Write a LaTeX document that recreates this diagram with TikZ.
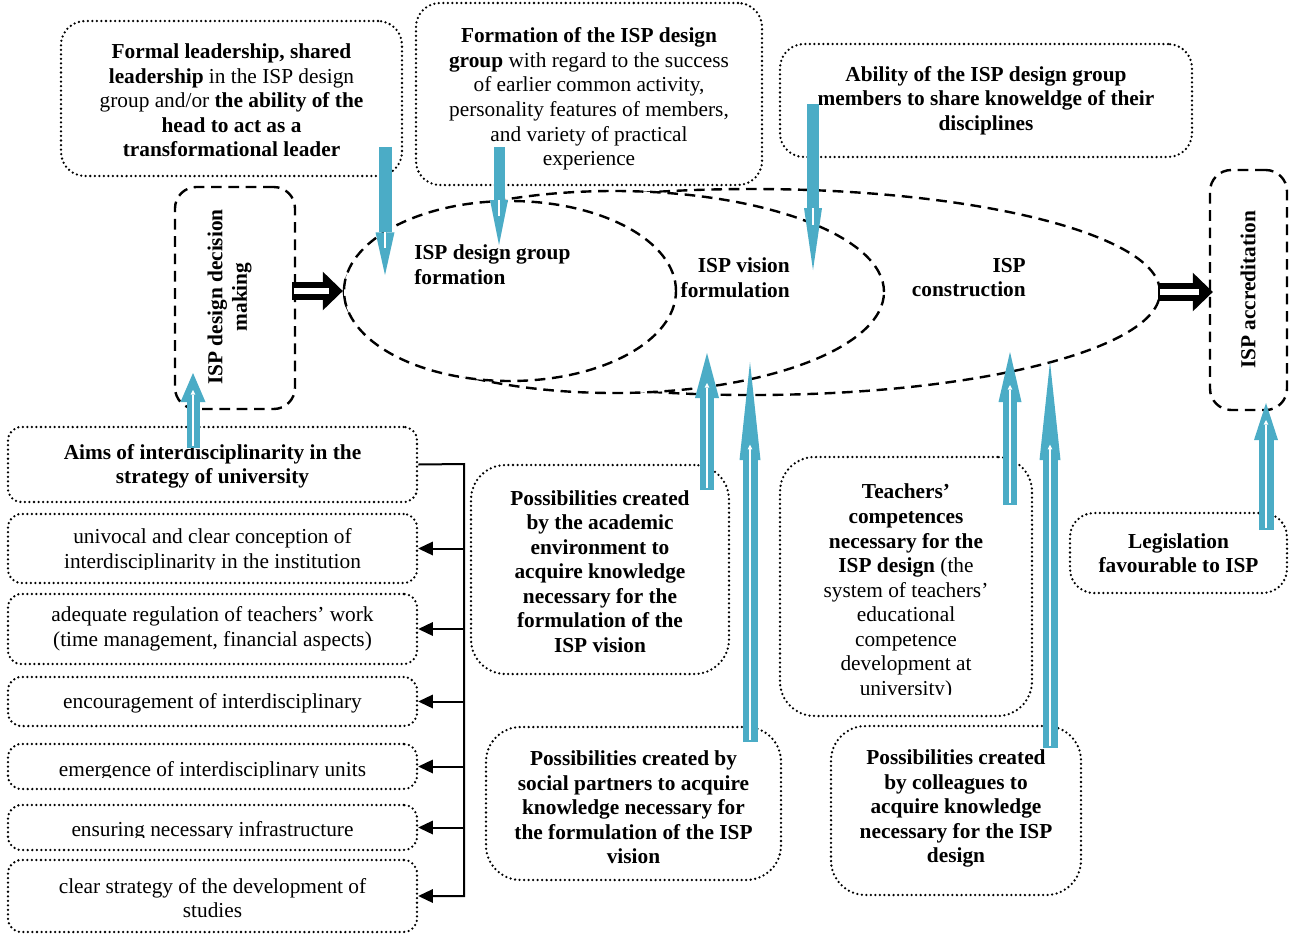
\documentclass[tikz,border=0pt]{standalone}
\usepackage{fontspec}
\setmainfont{Liberation Serif}
\usetikzlibrary{arrows.meta,shapes.geometric,fit,calc}
\definecolor{ispblue}{RGB}{75,172,198}

% Blue influence arrow pointing down: start, tip, shaft width, head length, head width, end of the light streak (from the tip)
\newcommand{\ispDown}[6]{%
  \draw[ispblue, line width=#3, -{Triangle[length=#4, width=#5, line width=0pt]}] (#1) -- (#2);
  \draw[white, line width=1.2pt] ($(#2)!#4!(#1)$) -- ($(#2)!#6!(#1)$);
}
% Blue outlined arrow pointing up: start, tip, shaft width, head length, head width, stripe width, stripe shortening
\newcommand{\ispUp}[7]{%
  \draw[ispblue, line width=#3, -{Triangle[length=#4, width=#5, line width=0pt]}] (#1) -- (#2);
  \draw[white, line width=#6, shorten <=1.5pt, shorten >=#7,
        -{Triangle[length=3.5pt, width=3.6pt, line width=0pt]}] (#1) -- (#2);
}

\begin{document}
\begin{tikzpicture}[x=0.75pt, y=-0.75pt,
  font=\fontsize{16}{18.4}\selectfont,
  dotbox/.style={draw, line width=1.9pt, dash pattern=on 0pt off 3.4pt, line cap=round,
                 rounded corners=18pt, inner sep=0pt},
  listbox/.style={dotbox, rounded corners=10pt},
  bigbox/.style={dotbox, rounded corners=26pt},
  dashbox/.style={draw, line width=1.8pt, dash pattern=on 8pt off 5pt, rounded corners=16pt, inner sep=0pt},
  ring/.style={ellipse, draw, fill=white, line width=1.8pt, dash pattern=on 8pt off 5pt, inner sep=0pt},
  stagelabel/.style={inner sep=0pt, font=\fontsize{16}{18.4}\selectfont\bfseries},
  txt/.style={inner sep=0pt, align=center},
  btxt/.style={txt, font=\fontsize{16}{18.4}\selectfont\bfseries},
  bustip/.style={line width=1.5pt, -{Triangle[length=11pt, width=10.5pt, line width=0pt]}},
  fat/.style={line width=13.5pt, -{Triangle[length=15pt, width=29pt, line width=0pt]}},
  fatcore/.style={white, line width=3.8pt, shorten <=1.5pt, shorten >=10pt}]

\useasboundingbox (0,0) rectangle (1289,936);

% ---- stages of the ISP design process (white-filled, later ones on top) ----
\node[ring, minimum width=612pt, minimum height=154.5pt] (construct) at (752,292) {};
\node[ring, minimum width=405pt, minimum height=151.5pt] (vision) at (614,292) {};
\node[ring, minimum width=249pt, minimum height=135pt] (groupform) at (510,291) {};

\node[stagelabel, align=left, anchor=west] (grouplbl) at (414,264.5) {ISP design group\\formation};
\node[stagelabel, align=right, anchor=east] (visionlbl) at (790,277.5) {ISP vision\\formulation};
\node[stagelabel, align=right, anchor=east] (constrlbl) at (1026,277.5) {ISP\\construction};

\node[dashbox, fit={(175,187) (295,409)}] (decide) {};
\node[stagelabel, align=center, rotate=90] (decidelbl) at (229.5,297) {ISP design decision\\making};
\node[dashbox, fit={(1210,170) (1287,410)}] (accred) {};
\node[stagelabel, rotate=90] (accredlbl) at (1248,290) {ISP accreditation};

% ---- factors ----
\node[dotbox, fit={(61,21) (402,176)}] (lead) {};
\node[txt] (leadtxt) at ($(lead.center)+(0,2)$)
  {\textbf{Formal leadership, shared}\\\textbf{leadership} in the ISP design\\group and/or \textbf{the ability of the}\\\textbf{head to act as a}\\\textbf{transformational leader}};
\node[dotbox, fit={(416,3) (762,185)}] (groupbox) {};
\node[txt] (grouptxt) at ($(groupbox.center)+(0,5)$)
  {\textbf{Formation of the ISP design}\\\textbf{group} with regard to the success\\of earlier common activity,\\personality features of members,\\and variety of practical\\experience};
\node[dotbox, fit={(780,44) (1192,157)}] (share) {};
\node[btxt] (sharetxt) at (share.center)
  {Ability of the ISP design group\\members to share knoweldge of their\\disciplines};

\node[listbox, fit={(8,427) (417,502)}] (aims) {};
\node[btxt] (aimstxt) at ($(aims.center)+(0,2)$) {Aims of interdisciplinarity in the\\strategy of university};
\node[listbox, fit={(8,514) (417,583)}] (univ) {};
\begin{scope}
  \clip (8,514) rectangle (417,569.5);
  \node[txt] (univtxt) at (212.5,550.75) {univocal and clear conception of\\interdisciplinarity in the institution};
\end{scope}
\node[listbox, fit={(8,594) (417,664)}] (regul) {};
\node[txt] (regultxt) at (regul.center) {adequate regulation of teachers’ work\\(time management, financial aspects)};
\node[listbox, fit={(8,677) (417,726)}] (encour) {};
\node[txt] (encourtxt) at ($(encour.center)+(0,2)$) {encouragement of interdisciplinary};
\node[listbox, fit={(8,744) (417,789)}] (units) {};
\begin{scope}
  \clip (8,744) rectangle (417,777);
  \node[txt] (unitstxt) at (212.5,771) {emergence of interdisciplinary units};
\end{scope}
\node[listbox, fit={(8,805) (417,850)}] (infra) {};
\begin{scope}
  \clip (8,805) rectangle (417,837.5);
  \node[txt] (infratxt) at (212.5,831) {ensuring necessary infrastructure};
\end{scope}
\node[listbox, fit={(8,860) (417,932)}] (strat) {};
\node[txt] (strattxt) at ($(strat.center)+(0,2)$) {clear strategy of the development of\\studies};

\node[bigbox, fit={(471,465) (729,674)}] (acad) {};
\node[btxt] (acadtxt) at ($(acad.center)+(0,2)$)
  {Possibilities created\\by the academic\\environment to\\acquire knowledge\\necessary for the\\formulation of the\\ISP vision};
\node[bigbox, fit={(780,457) (1032,716)}] (teach) {};
\begin{scope}
  \clip (780,457) rectangle (1032,694);
  \node[txt] (teachtxt) at (906,592)
    {\textbf{Teachers’}\\\textbf{competences}\\\textbf{necessary for the}\\\textbf{ISP design} (the\\system of teachers’\\educational\\competence\\development at\\university)};
\end{scope}
\node[dotbox, fit={(1070,513) (1287,593)}] (legis) {};
\node[btxt] (legistxt) at (legis.center) {Legislation\\favourable to ISP};
\node[bigbox, fit={(486,727) (781,880)}] (social) {};
\node[btxt] (socialtxt) at ($(social.center)+(0,4)$)
  {Possibilities created by\\social partners to acquire\\knowledge necessary for\\the formulation of the ISP\\vision};
\node[bigbox, fit={(831,726) (1081,895)}] (coll) {};
\node[btxt] (colltxt) at ($(coll.center)+(0,-2)$)
  {Possibilities created\\by colleagues to\\acquire knowledge\\necessary for the ISP\\design};

% ---- strategy components fed from the aims ----
\coordinate (busx) at (464,464);
\draw[bustip] (aims.east) -- (busx) |- (strat.east);
\foreach \comp in {univ, regul, encour, units, infra}
  \draw[bustip] (busx |- \comp.east) -- (\comp.east);

% ---- transitions between stages ----
\draw[fat] ($(decide.east |- groupform.west)+(-4,0)$) -- (groupform.west);
\draw[fatcore] ($(decide.east |- groupform.west)+(-4,0)$) -- (groupform.west);
\draw[fat] ($(construct.east)+(-3,0)$) -- ($(accred.west |- construct.east)+(4,0)$);
\draw[fatcore] ($(construct.east)+(-3,0)$) -- ($(accred.west |- construct.east)+(4,0)$);

% ---- influences ----
\coordinate (lead0) at (385,147);   \coordinate (lead1) at (385,275);
\coordinate (group0) at (499,147);  \coordinate (group1) at (499,245);
\coordinate (share0) at (813,104);  \coordinate (share1) at (813,270);
\coordinate (aims0) at (193,448);   \coordinate (aims1) at (193,373);
\coordinate (acad0) at (707,490);   \coordinate (acad1) at (707,353);
\coordinate (social0) at (750,742); \coordinate (social1) at (750,362);
\coordinate (teach0) at (1010,505); \coordinate (teach1) at (1010,352);
\coordinate (coll0) at (1050,748);  \coordinate (coll1) at (1050,362);
\coordinate (legis0) at (1266,530); \coordinate (legis1) at (1266,403);

\ispDown{lead0}{lead1}{9.75pt}{32pt}{14.25pt}{20pt}
\ispDown{group0}{group1}{8.25pt}{33.75pt}{13.5pt}{22pt}
\ispDown{share0}{share1}{9pt}{46.5pt}{13.5pt}{34pt}

\ispUp{aims0}{aims1}{9.75pt}{21.75pt}{18.75pt}{1.8pt}{12.75pt}
\ispUp{acad0}{acad1}{10.5pt}{33.75pt}{18pt}{1.8pt}{22.5pt}
\ispUp{social0}{social1}{11.25pt}{73.5pt}{15.75pt}{1.5pt}{62pt}
\ispUp{teach0}{teach1}{10.5pt}{37.5pt}{17.25pt}{1.8pt}{24.75pt}
\ispUp{coll0}{coll1}{11.25pt}{73.5pt}{15.75pt}{1.5pt}{62pt}
\ispUp{legis0}{legis1}{11.25pt}{27.75pt}{18pt}{1.8pt}{12.75pt}

\end{tikzpicture}
\end{document}
